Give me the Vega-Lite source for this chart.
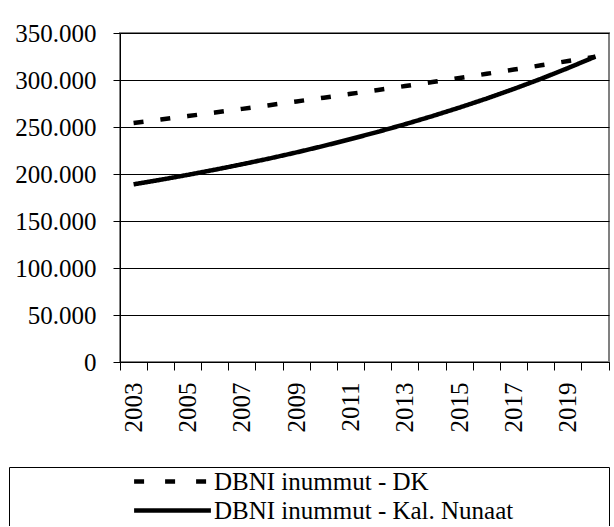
{
  "$schema": "https://vega.github.io/schema/vega-lite/v6.json",
  "padding": {"left": 9, "top": 20, "right": 1, "bottom": 0},
  "background": "white",
  "config": {
    "font": "Liberation Serif",
    "axis": {"labelFont": "Liberation Serif", "labelFontSize": 25, "labelColor": "black", "domainColor": "black", "domainWidth": 1, "tickColor": "black", "tickWidth": 1, "gridColor": "black", "gridWidth": 1, "gridOpacity": 1, "title": null}
  },
  "datasets": {
    "d": [
      {"year": "2003", "series": "DBNI inummut - DK", "value": 254200},
      {"year": "2004", "series": "DBNI inummut - DK", "value": 257900},
      {"year": "2005", "series": "DBNI inummut - DK", "value": 261600},
      {"year": "2006", "series": "DBNI inummut - DK", "value": 265400},
      {"year": "2007", "series": "DBNI inummut - DK", "value": 269300},
      {"year": "2008", "series": "DBNI inummut - DK", "value": 273200},
      {"year": "2009", "series": "DBNI inummut - DK", "value": 277200},
      {"year": "2010", "series": "DBNI inummut - DK", "value": 281200},
      {"year": "2011", "series": "DBNI inummut - DK", "value": 285300},
      {"year": "2012", "series": "DBNI inummut - DK", "value": 289400},
      {"year": "2013", "series": "DBNI inummut - DK", "value": 293600},
      {"year": "2014", "series": "DBNI inummut - DK", "value": 297900},
      {"year": "2015", "series": "DBNI inummut - DK", "value": 302200},
      {"year": "2016", "series": "DBNI inummut - DK", "value": 306600},
      {"year": "2017", "series": "DBNI inummut - DK", "value": 311100},
      {"year": "2018", "series": "DBNI inummut - DK", "value": 315600},
      {"year": "2019", "series": "DBNI inummut - DK", "value": 320200},
      {"year": "2020", "series": "DBNI inummut - DK", "value": 324800},
      {"year": "2003", "series": "DBNI inummut - Kal. Nunaat", "value": 189000},
      {"year": "2004", "series": "DBNI inummut - Kal. Nunaat", "value": 193900},
      {"year": "2005", "series": "DBNI inummut - Kal. Nunaat", "value": 199100},
      {"year": "2006", "series": "DBNI inummut - Kal. Nunaat", "value": 204600},
      {"year": "2007", "series": "DBNI inummut - Kal. Nunaat", "value": 210400},
      {"year": "2008", "series": "DBNI inummut - Kal. Nunaat", "value": 216500},
      {"year": "2009", "series": "DBNI inummut - Kal. Nunaat", "value": 223000},
      {"year": "2010", "series": "DBNI inummut - Kal. Nunaat", "value": 229900},
      {"year": "2011", "series": "DBNI inummut - Kal. Nunaat", "value": 237200},
      {"year": "2012", "series": "DBNI inummut - Kal. Nunaat", "value": 244900},
      {"year": "2013", "series": "DBNI inummut - Kal. Nunaat", "value": 253000},
      {"year": "2014", "series": "DBNI inummut - Kal. Nunaat", "value": 261600},
      {"year": "2015", "series": "DBNI inummut - Kal. Nunaat", "value": 270700},
      {"year": "2016", "series": "DBNI inummut - Kal. Nunaat", "value": 280300},
      {"year": "2017", "series": "DBNI inummut - Kal. Nunaat", "value": 290500},
      {"year": "2018", "series": "DBNI inummut - Kal. Nunaat", "value": 301300},
      {"year": "2019", "series": "DBNI inummut - Kal. Nunaat", "value": 312800},
      {"year": "2020", "series": "DBNI inummut - Kal. Nunaat", "value": 324900}
    ],
    "series": [
      {"series": "DBNI inummut - DK"},
      {"series": "DBNI inummut - Kal. Nunaat"}
    ]
  },
  "spacing": 34,
  "resolve": {"scale": {"x": "independent", "y": "independent", "strokeDash": "independent"}, "legend": {"strokeDash": "independent"}},
  "vconcat": [
    {
      "width": 489,
      "height": 329,
      "view": {"stroke": "#808080", "strokeWidth": 2},
      "data": {"name": "d"},
      "mark": {"type": "line", "strokeWidth": 4.5, "color": "black", "strokeCap": "butt"},
      "encoding": {
        "x": {
          "field": "year", "type": "ordinal",
          "scale": {"type": "band", "paddingInner": 0, "paddingOuter": 0},
          "axis": {"title": null, "labelAngle": -90, "labelExpr": "(+datum.value) % 2 == 1 ? datum.value : ''", "bandPosition": 1, "tickExtra": true, "tickSize": 8, "labelPadding": 12, "grid": false}
        },
        "y": {
          "field": "value", "type": "quantitative",
          "scale": {"domain": [0, 350000], "nice": false, "zero": true},
          "axis": {"title": null, "values": [0, 50000, 100000, 150000, 200000, 250000, 300000, 350000], "labelExpr": "replace(format(datum.value, ','), ',', '.')", "tickSize": 7, "labelPadding": 17, "grid": true}
        },
        "strokeDash": {
          "field": "series", "type": "nominal",
          "scale": {"domain": ["DBNI inummut - DK", "DBNI inummut - Kal. Nunaat"], "range": [[10, 17], [1, 0]]},
          "legend": null
        }
      }
    },
    {
      "width": 489,
      "height": 59,
      "view": {"stroke": null},
      "data": {"name": "series"},
      "resolve": {"scale": {"x": "independent", "y": "independent"}, "axis": {"x": "independent", "y": "independent"}},
      "layer": [
        {
          "mark": {"type": "line", "strokeWidth": 4.5, "color": "black", "strokeCap": "butt"},
          "encoding": {
            "x": {"field": "series", "type": "nominal", "axis": {"orient": "top", "position": -111, "domain": true, "domainColor": "black", "labels": false, "ticks": false, "grid": false, "title": null}},
            "y": {"field": "series", "type": "nominal", "axis": {"orient": "left", "offset": 111, "domain": true, "domainColor": "black", "labels": false, "ticks": false, "grid": false, "title": null}},
            "strokeDash": {
              "field": "series", "type": "nominal",
              "scale": {"domain": ["DBNI inummut - DK", "DBNI inummut - Kal. Nunaat"], "range": [[10, 21], [1, 0]]},
              "legend": {"orient": "none", "legendX": 38, "legendY": 0, "title": null, "direction": "vertical", "symbolType": "M-3.2,0H3.2", "symbolSize": 576, "symbolStrokeWidth": 4.5, "symbolStrokeColor": "black", "symbolFillColor": "transparent", "labelFont": "Liberation Serif", "labelFontSize": 25, "labelColor": "black", "labelOffset": 27, "rowPadding": 1, "padding": 0, "labelLimit": 0}
            }
          }
        },
        {
          "mark": {"type": "point", "opacity": 0},
          "encoding": {
            "x": {"field": "series", "type": "nominal", "axis": {"orient": "top", "domain": true, "domainColor": "black", "labels": false, "ticks": false, "grid": false, "title": null}},
            "y": {"field": "series", "type": "nominal", "axis": {"orient": "right", "domain": true, "domainColor": "black", "labels": false, "ticks": false, "grid": false, "title": null}}
          }
        }
      ]
    }
  ]
}
